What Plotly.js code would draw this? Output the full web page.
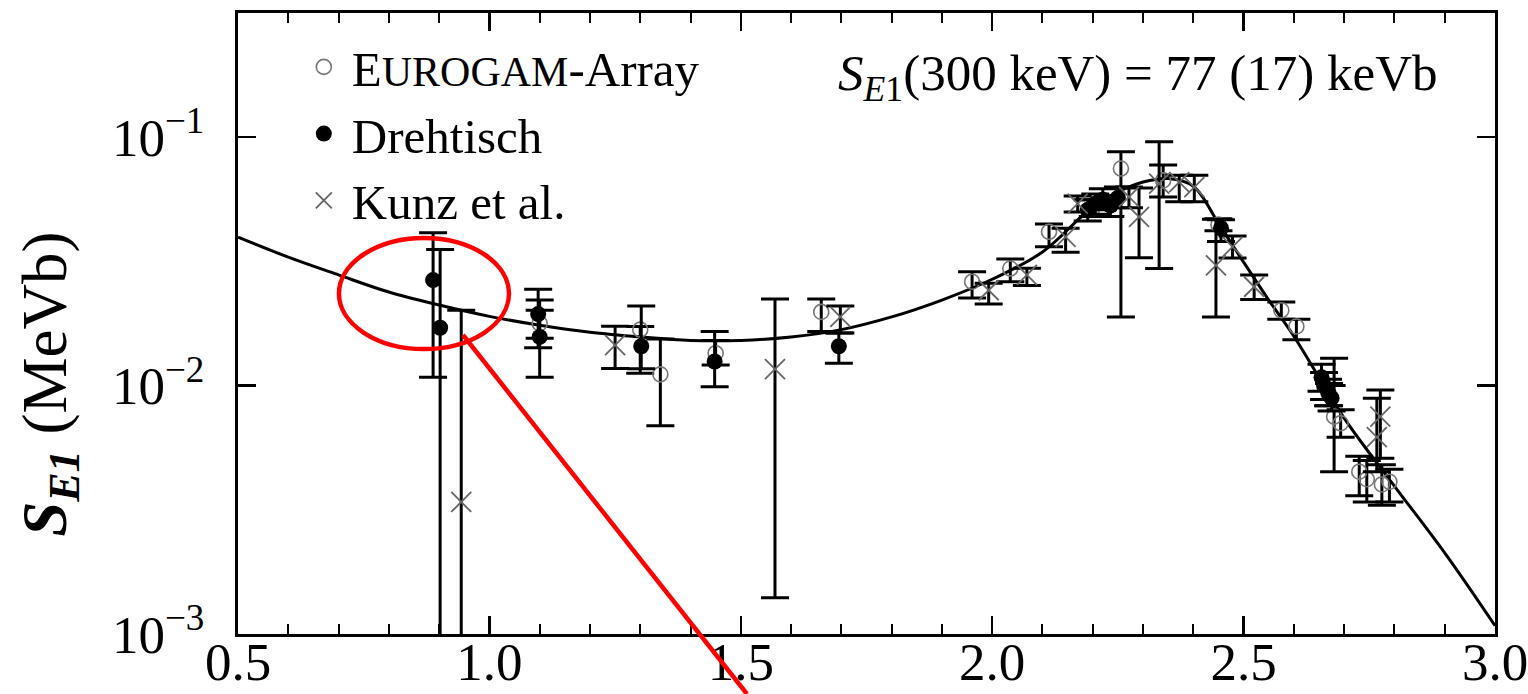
<!DOCTYPE html>
<html><head><meta charset="utf-8">
<script src="https://cdn.plot.ly/plotly-3.0.1.min.js"></script>
<style>html,body{margin:0;padding:0;background:#fff;}#chart{width:1528px;height:694px;}</style>
</head><body><div id="chart"></div>
<script>
// Fit curve (energy in MeV, S_E1 in MeVb)
const fitE = [0.5, 0.6, 0.7, 0.8, 0.9, 1.0, 1.1, 1.2, 1.3, 1.4, 1.5, 1.6, 1.7, 1.8, 1.9, 2.0, 2.1, 2.2, 2.25, 2.3, 2.35, 2.4, 2.45, 2.5, 2.55, 2.6, 2.7, 2.8, 2.9, 3.0];
const fitS = [0.0396, 0.0329, 0.0279, 0.0238, 0.0211, 0.0190, 0.0175, 0.0164, 0.0157, 0.0152, 0.0152, 0.0157, 0.0168, 0.0189, 0.0221, 0.0268, 0.0345, 0.0525, 0.0602, 0.0660, 0.0682, 0.0635, 0.0450, 0.0314, 0.0221, 0.0158, 0.0074, 0.00394, 0.00212, 0.00108];

// EUROGAM-Array (open circles)
const euroE  = [1.10, 1.30, 1.34, 1.45, 1.66, 1.96, 2.036, 2.113, 2.20, 2.256, 2.34, 2.45, 2.575, 2.605, 2.67, 2.68, 2.693, 2.73, 2.745, 2.775, 2.79];
const euroS  = [0.0178, 0.0168, 0.0111, 0.0135, 0.0198, 0.0262, 0.0296, 0.0416, 0.052, 0.0748, 0.067, 0.0445, 0.0201, 0.0173, 0.0092, 0.0075, 0.00705, 0.0045, 0.0042, 0.0040, 0.0041];
const euroHi = [0.0201, 0.0173, 0.0154, 0.0152, 0.0223, 0.0287, 0.0323, 0.0447, 0.056, 0.0873, 0.0772, 0.0470, 0.0217, 0.0185, 0.0102, 0.0129, 0.0080, 0.0052, 0.0050, 0.0048, 0.0046];
const euroLo = [0.0155, 0.0112, 0.0069, 0.0121, 0.0165, 0.0225, 0.0262, 0.0362, 0.048, 0.0189, 0.0575, 0.0420, 0.0185, 0.0153, 0.0083, 0.0045, 0.0062, 0.0036, 0.0034, 0.0033, 0.0034];

// Drehtisch (filled circles)
const drehE  = [0.888, 0.902, 1.097, 1.100, 1.302, 1.448, 1.695, 2.19, 2.205, 2.22, 2.235, 2.25, 2.455, 2.655, 2.66, 2.668, 2.675];
const drehS  = [0.0266, 0.0171, 0.0194, 0.0157, 0.0144, 0.0125, 0.0144, 0.051, 0.054, 0.056, 0.053, 0.057, 0.043, 0.0108, 0.0100, 0.0094, 0.0089];
const drehHi = [0.0412, 0.0353, 0.0244, 0.0221, 0.0209, 0.0165, 0.0163, 0.056, 0.059, 0.062, 0.058, 0.063, 0.0465, 0.0122, 0.0113, 0.0106, 0.0100];
const drehLo = [0.0108, 0.0005, 0.0142, 0.0108, 0.0117, 0.0099, 0.0123, 0.046, 0.049, 0.051, 0.048, 0.052, 0.038, 0.0095, 0.0088, 0.0083, 0.0079];

// Kunz et al. (crosses)
const kunzE  = [0.944, 1.25, 1.568, 1.698, 1.993, 2.069, 2.146, 2.17, 2.272, 2.292, 2.332, 2.372, 2.402, 2.445, 2.478, 2.521, 2.765, 2.772];
const kunzS  = [0.0034, 0.01456, 0.01164, 0.0189, 0.0242, 0.0279, 0.0397, 0.054, 0.0575, 0.0478, 0.065, 0.066, 0.063, 0.0305, 0.0362, 0.025, 0.0062, 0.0075];
const kunzHi = [0.0201, 0.01734, 0.0223, 0.0209, 0.0258, 0.0297, 0.043, 0.058, 0.063, 0.0625, 0.0958, 0.0703, 0.0703, 0.0467, 0.040, 0.0279, 0.0089, 0.0096];
const kunzLo = [0.0005, 0.01172, 0.0014, 0.0163, 0.0213, 0.0253, 0.0344, 0.050, 0.052, 0.0327, 0.0296, 0.055, 0.055, 0.0189, 0.0326, 0.0222, 0.0045, 0.0051];

// Axis ticks
const xTickVals = [0.5, 1.0, 1.5, 2.0, 2.5, 3.0];
const xTickText = ['0.5', '1.0', '1.5', '2.0', '2.5', '3.0'];
const yTickVals = [0.001, 0.01, 0.1];
const yTickText = ['10<sup>\u22123</sup>', '10<sup>\u22122</sup>', '10<sup>\u22121</sup>'];

const FONT = 'Liberation Serif, DejaVu Serif, serif';

function errs(v, hi, lo) {
  return {type: 'data', symmetric: false, visible: true,
    array: hi.map((h, i) => h - v[i]),
    arrayminus: lo.map((l, i) => v[i] - l),
    color: '#000', thickness: 3, width: 14};
}

const traces = [
  {x: fitE, y: fitS, mode: 'lines', line: {color: '#000', width: 3, shape: 'spline', smoothing: 1}, showlegend: false, hoverinfo: 'skip'},
  {x: euroE, y: euroS, mode: 'markers', name: 'E<span style="font-size:42px">UROGAM</span>-Array',
   marker: {symbol: 'circle-open', size: 15, color: '#777', line: {width: 1.6, color: '#777'}},
   error_y: errs(euroS, euroHi, euroLo)},
  {x: drehE, y: drehS, mode: 'markers', name: 'Drehtisch',
   marker: {symbol: 'circle', size: 16, color: '#000'},
   error_y: errs(drehS, drehHi, drehLo)},
  {x: kunzE, y: kunzS, mode: 'markers', name: 'Kunz et al.',
   marker: {symbol: 'x-thin-open', size: 20, color: '#666', line: {width: 1.8, color: '#666'}},
   error_y: errs(kunzS, kunzHi, kunzLo)}
];

const layout = {
  width: 1528, height: 694,
  margin: {l: 238, r: 33, t: 13, b: 60},
  paper_bgcolor: '#fff', plot_bgcolor: '#fff',
  font: {family: FONT, color: '#000', size: 50},
  showlegend: true,
  legend: {x: 0.046, y: 0.975, xanchor: 'left', yanchor: 'top', bgcolor: 'rgba(0,0,0,0)',
           font: {family: FONT, size: 49, color: '#000'}, itemsizing: 'trace', itemwidth: 46, tracegroupgap: 0},
  xaxis: {range: [0.5, 3.0], tickmode: 'array', tickvals: xTickVals, ticktext: xTickText,
          ticks: 'inside', ticklen: 18, tickwidth: 2.5, tickcolor: '#000', ticklabelstandoff: -21,
          ticklabeloverflow: 'allow',
          showline: true, linewidth: 3, linecolor: '#000', mirror: 'ticks',
          showgrid: false, zeroline: false,
          tickfont: {family: FONT, size: 53, color: '#000'},
          minor: {dtick: 0.1, tick0: 0.5, ticks: 'inside', ticklen: 10, tickwidth: 2, tickcolor: '#000', showgrid: false}},
  yaxis: {type: 'log', range: [-3, -0.5], tickmode: 'array', tickvals: yTickVals, ticktext: yTickText,
          ticks: 'inside', ticklen: 18, tickwidth: 2.5, tickcolor: '#000', ticklabelstandoff: 20,
          showline: true, linewidth: 3, linecolor: '#000', mirror: 'ticks',
          showgrid: false, zeroline: false,
          tickfont: {family: FONT, size: 53, color: '#000'}},
  annotations: [
    {xref: 'paper', yref: 'paper', x: -0.150, y: 0.402, xanchor: 'center', yanchor: 'middle', textangle: -90,
     showarrow: false, text: '<b><i>S</i><sub><i>E1</i></sub></b> (MeVb)',
     font: {family: FONT, size: 63, color: '#000'}},
    {xref: 'paper', yref: 'paper', x: 0.716, y: 0.897, xanchor: 'center', yanchor: 'middle', showarrow: false,
     text: '<i>S</i><sub><i>E</i>1</sub>(300 keV) = 77 (17) keVb',
     font: {family: FONT, size: 51, color: '#000'}}
  ],
  shapes: [
    {type: 'circle', xref: 'paper', yref: 'paper', x0: 0.0803, x1: 0.2156, y0: 0.4589, y1: 0.6377,
     line: {color: '#ff0000', width: 4.5}, layer: 'above'},
    {type: 'line', xref: 'paper', yref: 'paper', x0: 0.179, y0: 0.4815, x1: 0.4049, y1: -0.0966,
     line: {color: '#ff0000', width: 4.5}, layer: 'above'}
  ]
};

Plotly.newPlot('chart', traces, layout, {displayModeBar: false, staticPlot: true});
</script>
</body></html>
